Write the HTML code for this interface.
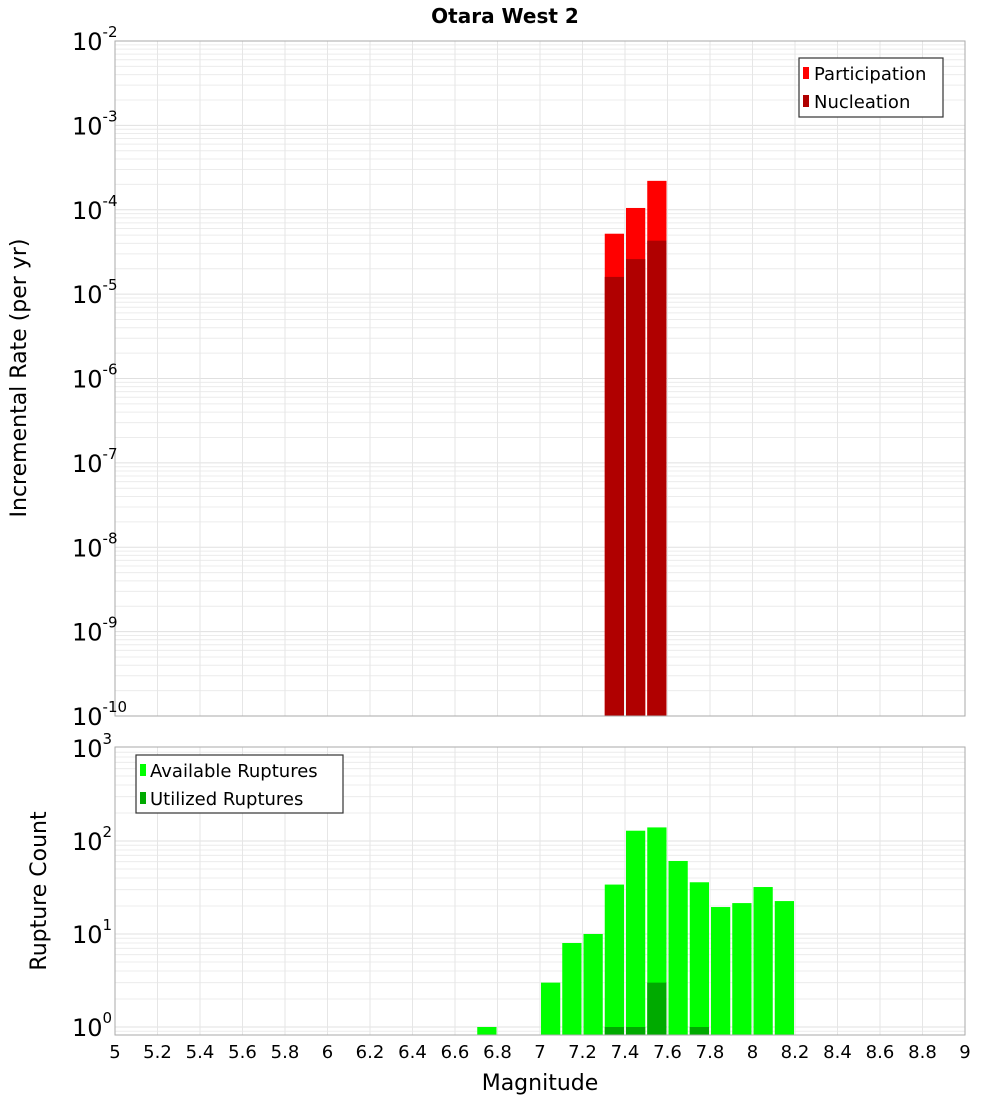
<!DOCTYPE html>
<html><head><meta charset="utf-8"><style>
body{margin:0;background:#fff;}
svg text{font-family:"DejaVu Sans","Liberation Sans",sans-serif;}
</style></head><body>
<svg id="c" width="1000" height="1100" xmlns="http://www.w3.org/2000/svg">
<text x="505" y="23" text-anchor="middle" font-size="20" font-weight="bold">Otara West 2</text>
<text transform="translate(26,378) rotate(-90)" text-anchor="middle" font-size="22">Incremental Rate (per yr)</text>
<text transform="translate(46,891) rotate(-90)" text-anchor="middle" font-size="22">Rupture Count</text>
<text x="540" y="1090" text-anchor="middle" font-size="22">Magnitude</text>
<g id="grid"></g><g id="bars"></g><g id="axes"></g>
<g>
<rect x="799" y="58" width="144" height="59" fill="#fff" stroke="#333" stroke-width="1.2"/>
<rect x="803" y="67" width="6" height="12" fill="#ff0000"/>
<text x="814" y="80" font-size="18">Participation</text>
<rect x="803" y="95" width="6" height="12" fill="#b00000"/>
<text x="814" y="108" font-size="18">Nucleation</text>
</g>
<g>
<rect x="136" y="755" width="207" height="58" fill="#fff" stroke="#333" stroke-width="1.2"/>
<rect x="140" y="764" width="6" height="12" fill="#00ff00"/>
<text x="150" y="777" font-size="18">Available Ruptures</text>
<rect x="140" y="792" width="6" height="12" fill="#00aa00"/>
<text x="150" y="805" font-size="18">Utilized Ruptures</text>
</g>
</svg>
<script>
const magBins=[7.35,7.45,7.55];
const participation=[5.2e-5,1.05e-4,2.2e-4];
const nucleation=[1.6e-5,2.6e-5,4.3e-5];
const countBins=[6.75,7.05,7.15,7.25,7.35,7.45,7.55,7.65,7.75,7.85,7.95,8.05,8.15];
const available=[1,3,8,10,34,129,140,61,36,19.5,21.5,32,22.6];
const utilBins=[7.35,7.45,7.55,7.75];
const utilized=[1,1,3,1];
const xTicks=["5","5.2","5.4","5.6","5.8","6","6.2","6.4","6.6","6.8","7","7.2","7.4","7.6","7.8","8","8.2","8.4","8.6","8.8","9"];
const topExps=[-2,-3,-4,-5,-6,-7,-8,-9,-10];
const botExps=[3,2,1,0];
const NS="http://www.w3.org/2000/svg";
const X0=115,X1=965;
const x=m=>X0+(m-5)/4*(X1-X0);
const T0=41,T1=716;
const yTop=v=>T0+(-2-Math.log10(v))/8*(T1-T0);
const B0=747,B1=1035,BD=93;
const yBot=v=>1027-Math.log10(v)*BD;
function mk(parent,tag,attrs){const e=document.createElementNS(NS,tag);for(const k in attrs)e.setAttribute(k,attrs[k]);document.getElementById(parent).appendChild(e);return e;}
// grids
for(let d=-10;d<-2;d++)for(let k=1;k<10;k++){const y=yTop(k*Math.pow(10,d));if(y<T0||y>T1)continue;
const l=mk('grid','line',{x1:X0,x2:X1,y1:y,y2:y,stroke:k==1?'#e0e0e0':'#ececec','stroke-width':1});
}
for(let d=-1;d<3;d++)for(let k=1;k<10;k++){const y=yBot(k*Math.pow(10,d));if(y<B0||y>B1)continue;
const l=mk('grid','line',{x1:X0,x2:X1,y1:y,y2:y,stroke:k==1?'#e0e0e0':'#ececec','stroke-width':1});
}
xTicks.forEach(t=>{const xx=x(parseFloat(t));
[[T0,T1],[B0,B1]].forEach(r=>{const l=mk('grid','line',{x1:xx,x2:xx,y1:r[0],y2:r[1],stroke:'#e6e6e6','stroke-width':1});
});});
const bw=x(5.1)-x(5)-2;
function bar(m,v,yf,base,col,name){const xl=x(m-0.05)+1,yt=yf(v);
const r=mk('bars','rect',{x:xl,y:yt,width:bw,height:base-yt,fill:col});
}
magBins.forEach((m,i)=>bar(m,participation[i],yTop,T1,'#ff0000','participation-bar'));
magBins.forEach((m,i)=>bar(m,nucleation[i],yTop,T1,'#b00000','nucleation-bar'));
countBins.forEach((m,i)=>bar(m,available[i],yBot,B1,'#00ff00','available-bar'));
utilBins.forEach((m,i)=>bar(m,utilized[i],yBot,B1,'#00aa00','utilized-bar'));
// axes frames
[[T0,T1,'top-plot-frame'],[B0,B1,'bottom-plot-frame']].forEach(r=>{const f=mk('axes','rect',{x:X0,y:r[0],width:X1-X0,height:r[1]-r[0],fill:'none',stroke:'#aaa','stroke-width':1});
});
function logLabel(y,e,name){const t=mk('axes','text',{x:104,y:y+9,'text-anchor':'end','font-size':24});

t.textContent='10';const s=document.createElementNS(NS,'tspan');s.setAttribute('dy','-13');s.setAttribute('font-size','15');s.textContent=String(e);t.appendChild(s);}
topExps.forEach(e=>{const y=yTop(Math.pow(10,e));const tt=mk('axes','text',{x:72,y:y+9,'font-size':24});

tt.textContent='10';const s=document.createElementNS(NS,'tspan');s.setAttribute('dy','-13');s.setAttribute('font-size','15');s.textContent=String(e);tt.appendChild(s);});
botExps.forEach(e=>{const y=yBot(Math.pow(10,e));const tt=mk('axes','text',{x:72,y:y+9,'font-size':24});

tt.textContent='10';const s=document.createElementNS(NS,'tspan');s.setAttribute('dy','-13');s.setAttribute('font-size','15');s.textContent=String(e);tt.appendChild(s);});
xTicks.forEach(t=>{const tx=mk('axes','text',{x:x(parseFloat(t)),y:1058,'text-anchor':'middle','font-size':18});
tx.textContent=t;});
</script>
</body></html>
